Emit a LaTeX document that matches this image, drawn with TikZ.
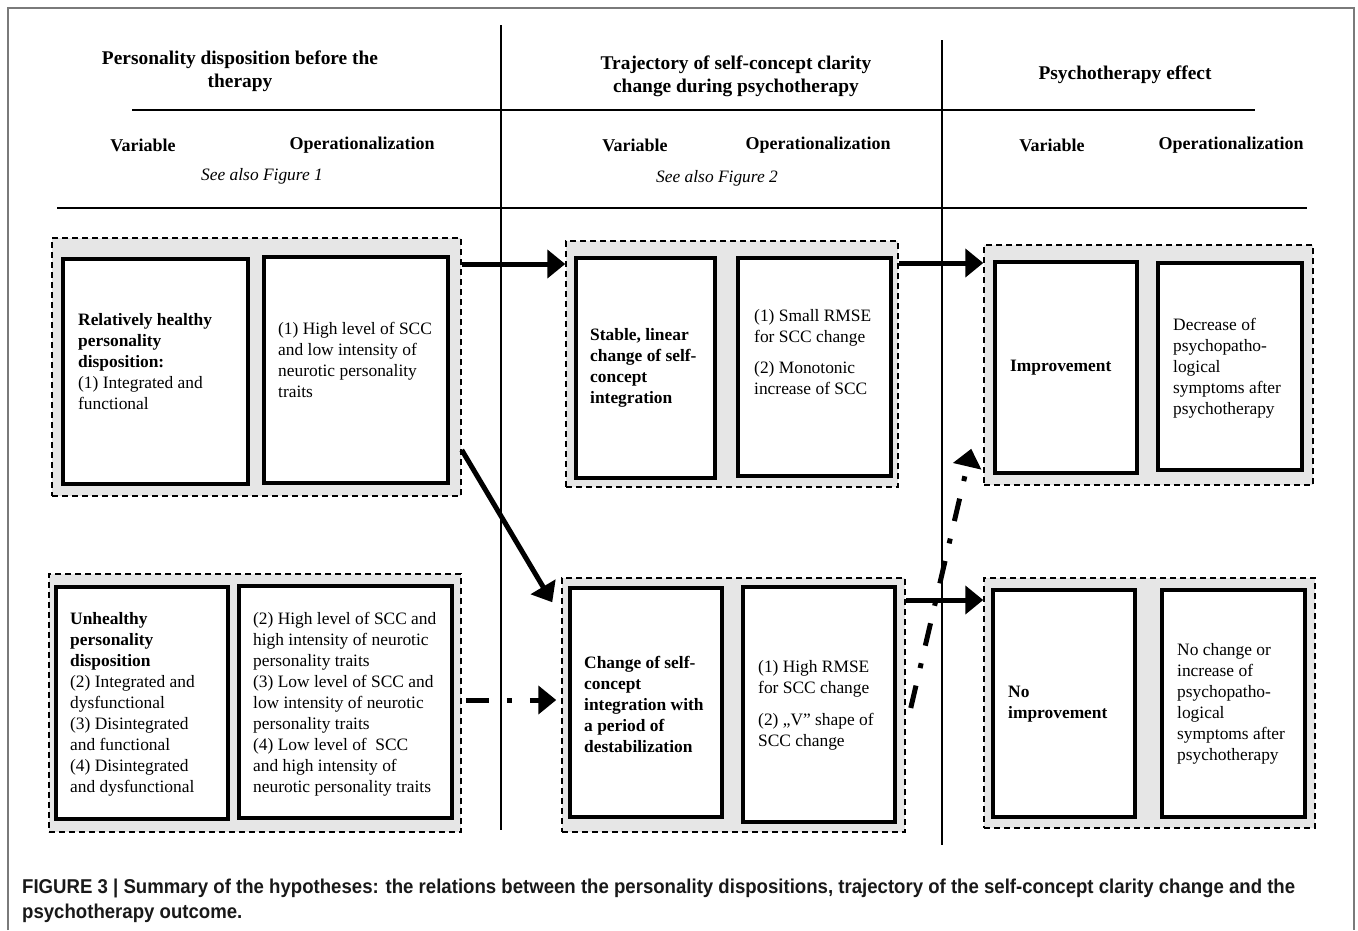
\documentclass[tikz,border=0pt]{standalone}
\usepackage{fontspec}
\setmainfont{Liberation Serif}
\newfontfamily\capfont[FakeStretch=0.93]{Liberation Sans}
\usetikzlibrary{arrows.meta,fit,calc}
\definecolor{grpfill}{HTML}{E6E6E6}
\definecolor{framegray}{HTML}{7A7A7A}
\tikzset{
  grp/.style={draw, line width=1.5pt, dash pattern=on 6pt off 4pt, fill=grpfill, inner sep=0pt},
  box/.style={draw, line width=4pt, fill=white, inner sep=0pt},
  txt/.style={align=left, inner sep=0pt, anchor=west, font=\fontsize{17.4}{21}\selectfont},
  head/.style={align=center, inner sep=0pt, font=\fontsize{19.4}{23}\selectfont\bfseries},
  colh/.style={inner sep=0pt, font=\fontsize{18}{21}\selectfont\bfseries},
  seeal/.style={inner sep=0pt, font=\fontsize{17.4}{21}\selectfont\itshape},
  rule/.style={line width=2pt},
  vline/.style={line width=1.5pt},
  arr/.style={line width=5pt, -{Triangle[length=18pt,width=28pt]}},
  ddarr/.style={arr, dash pattern=on 23pt off 18pt on 5pt off 18pt},
}
\begin{document}
\begin{tikzpicture}[x=1pt,y=-1pt]
\useasboundingbox (0,0) rectangle (1358,930);
% outer frame
\draw[framegray, line width=1.2pt] (8,930) -- (8,8) -- (1354,8) -- (1354,930);

% column separators and rules
\draw[vline] (501,25) -- (501,830);
\draw[vline] (942,40) -- (942,845);
\draw[rule] (132,110) -- (1255,110);
\draw[rule] (57,208) -- (1307,208);

% headers
\node[head] (h1) at (240,71) {Personality disposition before the\\therapy};
\node[head] (h2) at (736,76) {Trajectory of self-concept clarity\\change during psychotherapy};
\node[head] (h3) at (1125,75) {Psychotherapy effect};
\node[colh] (v1) at (143,145) {Variable};
\node[colh] (o1) at (362,145) {Operationalization};
\node[colh] (v2) at (635,145) {Variable};
\node[colh] (o2) at (818,145) {Operationalization};
\node[colh] (v3) at (1052,145) {Variable};
\node[colh] (o3) at (1231,145) {Operationalization};
\node[seeal] (s1) at (262,176) {See also Figure 1};
\node[seeal] (s2) at (717,178) {See also Figure 2};

% groups
\node[grp, fit={(52,238) (461,496)}] (G1) {};
\node[grp, fit={(49,574) (461,832)}] (G2) {};
\node[grp, fit={(566,241) (898,487)}] (G3) {};
\node[grp, fit={(562,578) (905,832)}] (G4) {};
\node[grp, fit={(984,245) (1313,485)}] (G5) {};
\node[grp, fit={(984,578) (1315,828)}] (G6) {};

% inner boxes
\node[box, fit={(63,259) (248,484)}] (A1) {};
\node[box, fit={(264,257) (448,483)}] (A2) {};
\node[box, fit={(56,587) (228,819)}] (B1) {};
\node[box, fit={(239,586) (452,818)}] (B2) {};
\node[box, fit={(576,258) (715,478)}] (C1) {};
\node[box, fit={(738,258) (891,476)}] (C2) {};
\node[box, fit={(570,588) (722,817)}] (D1) {};
\node[box, fit={(743,587) (895,822)}] (D2) {};
\node[box, fit={(995,262) (1137,473)}] (E1) {};
\node[box, fit={(1158,263) (1302,470)}] (E2) {};
\node[box, fit={(993,590) (1135,817)}] (F1) {};
\node[box, fit={(1162,590) (1305,817)}] (F2) {};

% texts
\node[txt] (A1t) at (78,362) {\textbf{Relatively healthy}\\\textbf{personality}\\\textbf{disposition:}\\(1) Integrated and\\functional};
\node[txt] (A2t) at (278,360) {(1) High level of SCC\\and low intensity of\\neurotic personality\\traits};
\node[txt] (B1t) at (70,704) {\textbf{Unhealthy}\\\textbf{personality}\\\textbf{disposition}\\(2) Integrated and\\dysfunctional\\(3) Disintegrated\\and functional\\(4) Disintegrated\\and dysfunctional};
\node[txt] (B2t) at (253,704) {(2) High level of SCC and\\high intensity of neurotic\\personality traits\\(3) Low level of SCC and\\low intensity of neurotic\\personality traits\\(4) Low level of\ \ SCC\\and high intensity of\\neurotic personality traits};
\node[txt] (C1t) at (590,368) {\textbf{Stable, linear}\\\textbf{change of self-}\\\textbf{concept}\\\textbf{integration}};
\node[txt] (C2t) at (754,352) {(1) Small RMSE\\for SCC change\\[10pt](2) Monotonic\\increase of SCC};
\node[txt] (D1t) at (584,704) {\textbf{Change of self-}\\\textbf{concept}\\\textbf{integration with}\\\textbf{a period of}\\\textbf{destabilization}};
\node[txt] (D2t) at (758,705) {(1) High RMSE\\for SCC change\\[11pt](2) ,,V'' shape of\\SCC change};
\node[txt] (E1t) at (1010,368) {\textbf{Improvement}};
\node[txt] (E2t) at (1173,368) {Decrease of\\psychopatho-\\logical\\symptoms after\\psychotherapy};
\node[txt] (F1t) at (1008,704) {\textbf{No}\\\textbf{improvement}};
\node[txt] (F2t) at (1177,704) {No change or\\increase of\\psychopatho-\\logical\\symptoms after\\psychotherapy};

% connectors
\draw[arr] (G1.east |- 0,264) -- (G3.west |- 0,264);
\draw[arr] (G1.east |- 0,450) -- ($(G4.north west)+(-9,25)$);
\draw[ddarr, shorten >=5pt] ($(G2.east |- 0,700)+(4,0)$) -- (G4.west |- 0,700);
\draw[arr] (G3.east |- 0,263) -- (G5.west |- 0,263);
\draw[arr] (G4.east |- 0,600) -- (G6.west |- 0,600);
\draw[ddarr] ($(G4.east |- 0,708)+(5,0)$) -- ($(G5.south west)+(-12,-37)$);

% caption
\node[inner sep=0pt, anchor=north west, align=left, font=\capfont\bfseries\fontsize{20}{25}\selectfont, text=black!90] (cap) at (22,879) {FIGURE 3 | Summary of the hypotheses: the relations between the personality dispositions, trajectory of the self-concept clarity change and the\\psychotherapy outcome.};
\end{tikzpicture}
\end{document}
